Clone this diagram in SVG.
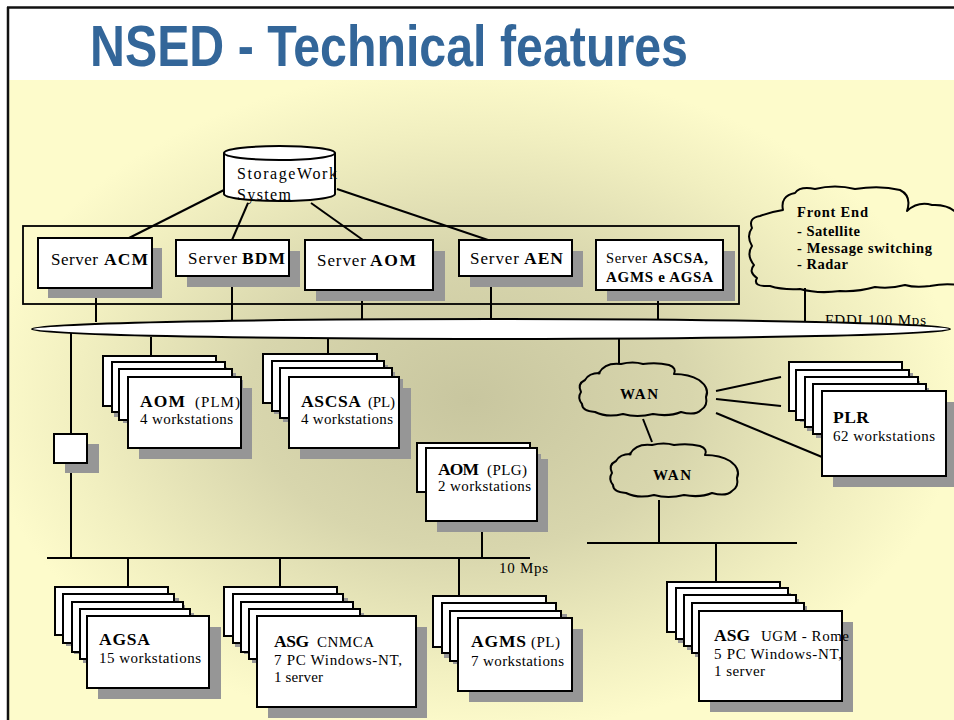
<svg xmlns="http://www.w3.org/2000/svg" width="954" height="720" viewBox="0 0 954 720">
  <defs>
    <radialGradient id="bg" gradientUnits="userSpaceOnUse" cx="470" cy="400" r="490" gradientTransform="translate(0 400) scale(1 0.68) translate(0 -400)">
      <stop offset="0" stop-color="#c8c69f"/>
      <stop offset="0.45" stop-color="#d8d6ad"/>
      <stop offset="0.8" stop-color="#f1efc0"/>
      <stop offset="1" stop-color="#fdfbcb"/>
    </radialGradient>
    <path id="cloud" d="M 22 11 Q 28 0 44 2 Q 56 -1 66 2 Q 80 0 92 3 Q 100 6 97 12 Q 112 12 122 18 Q 133 26 129 35 Q 131 44 124 48 Q 118 54 104 50 Q 92 55 76 52 Q 60 56 46 52 Q 30 56 18 50 Q 5 49 5 42 Q 0 36 4 30 Q 0 22 8 18 Q 12 11 22 11 Z"/>
    <style>
      .ln { stroke: #000; stroke-width: 2; fill: none; }
      .box { fill: #fff; stroke: #000; stroke-width: 2; }
      .sh { fill: #969696; }
      .cl { fill: none; stroke: #000; stroke-width: 2; stroke-linejoin: round; }
      .t { font-family: "Liberation Serif", "Times New Roman", serif; fill: #000; }
      .b { font-weight: bold; }
      .srv { font-size: 17px; }
      .lbl { font-size: 17.5px; }
      .sub { font-size: 15px; }
      .small { font-size: 15px; }
    </style>
  </defs>

  <!-- slide background -->
  <rect x="0" y="0" width="954" height="720" fill="#fff"/>
  <rect x="9" y="80" width="945" height="640" fill="url(#bg)"/>
  <line x1="7" y1="7.5" x2="954" y2="7.5" stroke="#111" stroke-width="2.5"/>
  <line x1="8" y1="7" x2="8" y2="720" stroke="#111" stroke-width="2.5"/>

  <text x="90" y="66" textLength="598" lengthAdjust="spacingAndGlyphs" font-family="Liberation Sans, Arial, sans-serif" font-size="58" font-weight="bold" fill="#336699">NSED - Technical features</text>

  <!-- server enclosure -->
  <rect x="23" y="226" width="716" height="78" fill="none" stroke="#000" stroke-width="1.8"/>

  <!-- FDDI label sits behind the ring -->
  <text class="t" x="825" y="325" font-size="15" textLength="101">FDDI  100 Mps</text>

  <g id="connectors">
    <!-- storage to servers -->
    <line class="ln" x1="224" y1="190" x2="129" y2="238"/>
    <line class="ln" x1="248" y1="203" x2="232" y2="240"/>
    <line class="ln" x1="311" y1="203" x2="363" y2="240"/>
    <line class="ln" x1="337" y1="189" x2="488" y2="240"/>
    <!-- servers to FDDI -->
    <line class="ln" x1="96" y1="288" x2="96" y2="322"/>
    <line class="ln" x1="232" y1="276" x2="232" y2="321"/>
    <line class="ln" x1="362" y1="290" x2="362" y2="321"/>
    <line class="ln" x1="491" y1="276" x2="491" y2="321"/>
    <line class="ln" x1="658" y1="290" x2="658" y2="321"/>
    <line class="ln" x1="805" y1="288" x2="805" y2="322"/>
    <!-- FDDI downwards -->
    <line class="ln" x1="71" y1="332" x2="71" y2="558"/>
    <line class="ln" x1="151" y1="337" x2="151" y2="356"/>
    <line class="ln" x1="328" y1="337" x2="328" y2="354"/>
    <line class="ln" x1="619" y1="337" x2="619" y2="363"/>
    <!-- 10 Mps bus -->
    <line class="ln" x1="47" y1="558" x2="530" y2="558"/>
    <line class="ln" x1="482" y1="521" x2="482" y2="558"/>
    <line class="ln" x1="128" y1="558" x2="128" y2="587"/>
    <line class="ln" x1="280" y1="558" x2="280" y2="587"/>
    <line class="ln" x1="459" y1="558" x2="459" y2="596"/>
    <!-- WAN links -->
    <line class="ln" x1="643" y1="419" x2="652" y2="442"/>
    <line class="ln" x1="659" y1="500" x2="659" y2="543"/>
    <line class="ln" x1="587" y1="543" x2="797" y2="543"/>
    <line class="ln" x1="716" y1="543" x2="716" y2="582"/>
    <line class="ln" x1="716" y1="391" x2="781" y2="377"/>
    <line class="ln" x1="716" y1="399" x2="781" y2="406"/>
    <line class="ln" x1="716" y1="413" x2="822" y2="457"/>
  </g>

  <g id="fddi">
    <ellipse cx="491" cy="329" rx="459" ry="10" fill="#fff" stroke="#000" stroke-width="2"/>
  </g>

  <g id="storage">
    <path d="M 224 153 L 224 194 A 55.5 7 0 0 0 335 194 L 335 153" fill="#fff" stroke="#000" stroke-width="2"/>
    <ellipse cx="279.5" cy="153" rx="55.5" ry="7" fill="#fff" stroke="#000" stroke-width="2"/>
    <text class="t" x="237" y="179" font-size="16" textLength="100">StorageWork</text>
    <text class="t" x="237" y="200" font-size="16" textLength="54">System</text>
  </g>

  <g id="server-acm">
    <rect class="sh" x="48" y="248" width="114" height="50"/>
    <rect class="box" x="38" y="238" width="114" height="50"/>
    <text class="t srv" x="51" y="265" textLength="47">Server</text>
    <text class="t lbl b" x="104" y="265" textLength="44">ACM</text>
  </g>
  <g id="server-bdm">
    <rect class="sh" x="187" y="251" width="113" height="36"/>
    <rect class="box" x="176" y="240" width="113" height="36"/>
    <text class="t srv" x="188" y="264" textLength="49">Server</text>
    <text class="t lbl b" x="242" y="264" textLength="43">BDM</text>
  </g>
  <g id="server-aom">
    <rect class="sh" x="316" y="251" width="129" height="50"/>
    <rect class="box" x="305" y="240" width="128" height="50"/>
    <text class="t srv" x="317" y="266" textLength="49">Server</text>
    <text class="t lbl b" x="370" y="266" textLength="46">AOM</text>
  </g>
  <g id="server-aen">
    <rect class="sh" x="470" y="251" width="113" height="36"/>
    <rect class="box" x="459" y="240" width="113" height="36"/>
    <text class="t srv" x="470" y="264" textLength="49">Server</text>
    <text class="t lbl b" x="524" y="264" textLength="39">AEN</text>
  </g>
  <g id="server-ascsa">
    <rect class="sh" x="607" y="251" width="128" height="50"/>
    <rect class="box" x="596" y="240" width="127" height="50"/>
    <text class="t" x="606" y="263" font-size="14.5" textLength="41">Server</text>
    <text class="t b" x="652" y="263" font-size="15" textLength="56">ASCSA,</text>
    <text class="t b" x="606" y="282" font-size="15" textLength="107">AGMS e AGSA</text>
  </g>

  <g id="front-end">
    <path class="cl" d="M 783 210 Q 780 196 795 193 Q 800 186 815 189 Q 835 184 855 189 Q 880 185 900 190 Q 912 196 907 211 Q 918 201 932 205 Q 950 204 958 215 L 958 285 Q 945 283 930 286 Q 915 288 905 285 Q 890 289 875 287 Q 858 292 840 291 Q 818 294 800 289 Q 782 290 770 286 Q 752 287 757 278 Q 748 272 754 265 Q 746 255 752 246 Q 746 236 752 228 Q 748 218 760 216 Q 770 212 783 210 Z"/>
    <text class="t b" x="797" y="217" font-size="14.5" textLength="71">Front End</text>
    <text class="t b" x="797" y="236" font-size="14.5" textLength="63">- Satellite</text>
    <text class="t b" x="797" y="253" font-size="14.5" textLength="135">- Message switching</text>
    <text class="t b" x="797" y="269" font-size="14.5" textLength="51">- Radar</text>
  </g>

  <g id="repeater">
    <rect class="sh" x="65" y="444" width="34" height="29"/>
    <rect class="box" x="54" y="434" width="33" height="29"/>
  </g>

  <g id="aom-plm">
    <rect class="sh" x="114" y="367" width="113" height="50"/><rect class="box" x="103" y="356" width="113" height="50"/>
    <rect class="sh" x="123" y="373" width="113" height="50"/><rect class="box" x="112" y="362" width="113" height="50"/>
    <rect class="sh" x="130" y="380" width="113" height="51"/><rect class="box" x="119" y="369" width="113" height="51"/>
    <rect class="sh" x="139" y="388" width="113" height="71"/><rect class="box" x="128" y="377" width="113" height="71"/>
    <text class="t lbl b" x="140" y="407" textLength="45">AOM</text>
    <text class="t sub" x="195" y="407" textLength="45">(PLM)</text>
    <text class="t small" x="140" y="424" textLength="93">4 workstations</text>
  </g>

  <g id="ascsa-pl">
    <rect class="sh" x="274" y="365" width="114" height="49"/><rect class="box" x="263" y="354" width="114" height="49"/>
    <rect class="sh" x="283" y="372" width="112" height="50"/><rect class="box" x="272" y="361" width="112" height="50"/>
    <rect class="sh" x="291" y="379" width="112" height="50"/><rect class="box" x="280" y="368" width="112" height="50"/>
    <rect class="sh" x="300" y="388" width="111" height="71"/><rect class="box" x="289" y="377" width="110" height="71"/>
    <text class="t lbl b" x="301" y="407" textLength="60">ASCSA</text>
    <text class="t sub" x="368" y="407" textLength="27">(PL)</text>
    <text class="t small" x="301" y="424" textLength="92">4 workstations</text>
  </g>

  <g id="aom-plg">
    <rect class="sh" x="428" y="454" width="113" height="49"/><rect class="box" x="417" y="443" width="113" height="49"/>
    <rect class="sh" x="437" y="459" width="111" height="73"/><rect class="box" x="426" y="448" width="111" height="73"/>
    <text class="t lbl b" x="438" y="475" textLength="41">AOM</text>
    <text class="t sub" x="487" y="475" textLength="40">(PLG)</text>
    <text class="t small" x="438" y="491" textLength="93">2 workstations</text>
  </g>

  <g id="wan-1">
    <use href="#cloud" x="577" y="362" class="cl"/>
    <circle cx="599" cy="373" r="1.6" fill="#000"/>
    <text class="t b" x="620" y="399" font-size="15" textLength="38">WAN</text>
  </g>
  <g id="wan-2">
    <use href="#cloud" x="608" y="443" class="cl"/>
    <circle cx="630" cy="454" r="1.6" fill="#000"/>
    <text class="t b" x="653" y="480" font-size="15" textLength="38">WAN</text>
  </g>

  <g id="plr">
    <rect class="sh" x="800" y="373" width="113" height="49"/><rect class="box" x="789" y="362" width="113" height="49"/>
    <rect class="sh" x="807" y="381" width="113" height="50"/><rect class="box" x="796" y="370" width="113" height="50"/>
    <rect class="sh" x="816" y="388" width="113" height="50"/><rect class="box" x="805" y="377" width="113" height="50"/>
    <rect class="sh" x="824" y="395" width="113" height="50"/><rect class="box" x="813" y="384" width="113" height="50"/>
    <rect class="sh" x="833" y="402" width="124" height="85"/><rect class="box" x="822" y="391" width="124" height="85"/>
    <text class="t lbl b" x="833" y="423" textLength="36">PLR</text>
    <text class="t small" x="833" y="441" textLength="102">62 workstations</text>
  </g>

  <g id="agsa">
    <rect class="sh" x="66" y="598" width="113" height="48"/><rect class="box" x="55" y="587" width="113" height="48"/>
    <rect class="sh" x="74" y="605" width="111" height="49"/><rect class="box" x="63" y="594" width="111" height="49"/>
    <rect class="sh" x="83" y="613" width="111" height="50"/><rect class="box" x="72" y="602" width="111" height="50"/>
    <rect class="sh" x="91" y="620" width="110" height="50"/><rect class="box" x="80" y="609" width="110" height="50"/>
    <rect class="sh" x="98" y="627" width="123" height="72"/><rect class="box" x="87" y="616" width="122" height="72"/>
    <text class="t lbl b" x="99" y="645" textLength="51">AGSA</text>
    <text class="t small" x="99" y="663" textLength="102">15 workstations</text>
  </g>

  <g id="asg-cnmca">
    <rect class="sh" x="235" y="598" width="113" height="49"/><rect class="box" x="224" y="587" width="113" height="49"/>
    <rect class="sh" x="244" y="605" width="110" height="49"/><rect class="box" x="233" y="594" width="110" height="49"/>
    <rect class="sh" x="252" y="613" width="112" height="50"/><rect class="box" x="241" y="602" width="112" height="50"/>
    <rect class="sh" x="260" y="620" width="111" height="50"/><rect class="box" x="249" y="609" width="111" height="50"/>
    <rect class="sh" x="268" y="627" width="159" height="91"/><rect class="box" x="257" y="616" width="159" height="91"/>
    <text class="t lbl b" x="274" y="647" textLength="35">ASG</text>
    <text class="t sub" x="317" y="647" textLength="57">CNMCA</text>
    <text class="t small" x="274" y="665" textLength="128">7 PC Windows-NT,</text>
    <text class="t small" x="274" y="682" textLength="49">1 server</text>
  </g>

  <g id="agms-pl">
    <rect class="sh" x="444" y="607" width="113" height="51"/><rect class="box" x="433" y="596" width="113" height="51"/>
    <rect class="sh" x="453" y="614" width="114" height="50"/><rect class="box" x="442" y="603" width="114" height="50"/>
    <rect class="sh" x="461" y="622" width="111" height="50"/><rect class="box" x="450" y="611" width="111" height="50"/>
    <rect class="sh" x="469" y="629" width="114" height="73"/><rect class="box" x="458" y="618" width="114" height="73"/>
    <text class="t lbl b" x="471" y="647" textLength="55">AGMS</text>
    <text class="t sub" x="531" y="647" textLength="29">(PL)</text>
    <text class="t small" x="471" y="666" textLength="93">7 workstations</text>
  </g>

  <g id="asg-ugm">
    <rect class="sh" x="678" y="593" width="113" height="50"/><rect class="box" x="667" y="582" width="113" height="50"/>
    <rect class="sh" x="687" y="599" width="112" height="51"/><rect class="box" x="676" y="588" width="112" height="51"/>
    <rect class="sh" x="695" y="606" width="112" height="51"/><rect class="box" x="684" y="595" width="112" height="51"/>
    <rect class="sh" x="703" y="614" width="112" height="50"/><rect class="box" x="692" y="603" width="112" height="50"/>
    <rect class="sh" x="710" y="622" width="143" height="90"/><rect class="box" x="699" y="611" width="143" height="90"/>
    <text class="t lbl b" x="714" y="641" textLength="36">ASG</text>
    <text class="t sub" x="761" y="641" textLength="88">UGM - Rome</text>
    <text class="t small" x="714" y="659" textLength="128">5 PC Windows-NT,</text>
    <text class="t small" x="714" y="676" textLength="51">1 server</text>
  </g>

  <text class="t small" x="499" y="573" textLength="49">10 Mps</text>
</svg>
